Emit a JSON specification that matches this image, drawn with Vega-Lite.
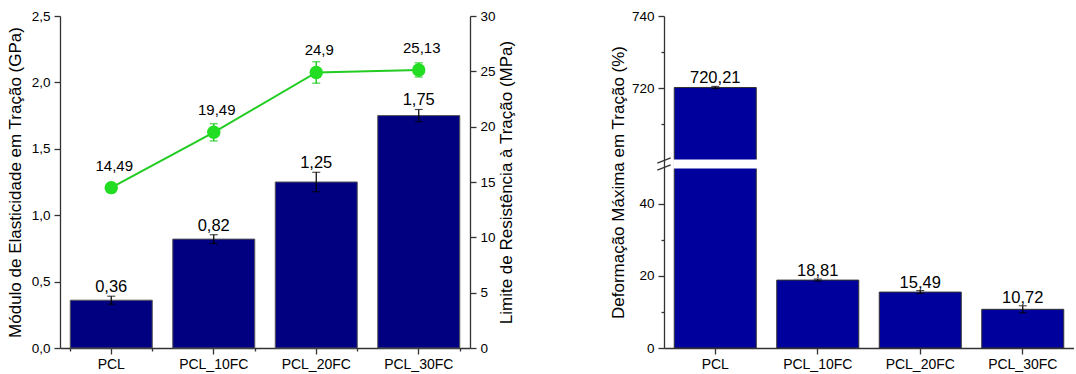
{
  "$schema": "https://vega.github.io/schema/vega-lite/v6.json",
  "padding": {"left": 6, "top": 9, "right": 0, "bottom": 3},
  "background": "white",
  "config": {
    "font": "Liberation Sans",
    "view": {"stroke": null},
    "axis": {
      "labelFont": "Liberation Sans", "titleFont": "Liberation Sans",
      "labelFontSize": 13.5, "titleFontSize": 17, "titleFontWeight": "normal",
      "labelColor": "#000", "titleColor": "#000",
      "domainColor": "#333", "tickColor": "#333", "domainWidth": 1.3, "tickWidth": 1.3,
      "grid": false, "labelOverlap": false, "labelFlush": false
    },
    "locale": {"number": {"decimal": ",", "thousands": ".", "grouping": [3], "currency": ["", ""]}}
  },
  "datasets": {
    "tensile": [
      {"amostra": "PCL", "modulo": 0.36, "modulo_lo": 0.33, "modulo_hi": 0.39, "resistencia": 14.49, "resistencia_lo": 14.2, "resistencia_hi": 14.8, "deformacao": 720.21, "deformacao_lo": 719.9, "deformacao_hi": 720.5},
      {"amostra": "PCL_10FC", "modulo": 0.82, "modulo_lo": 0.787, "modulo_hi": 0.853, "resistencia": 19.49, "resistencia_lo": 18.71, "resistencia_hi": 20.27, "deformacao": 18.81, "deformacao_lo": 18.5, "deformacao_hi": 19.1},
      {"amostra": "PCL_20FC", "modulo": 1.25, "modulo_lo": 1.177, "modulo_hi": 1.323, "resistencia": 24.9, "resistencia_lo": 23.93, "resistencia_hi": 25.87, "deformacao": 15.49, "deformacao_lo": 15.1, "deformacao_hi": 15.9},
      {"amostra": "PCL_30FC", "modulo": 1.75, "modulo_lo": 1.704, "modulo_hi": 1.796, "resistencia": 25.13, "resistencia_lo": 24.49, "resistencia_hi": 25.77, "deformacao": 10.72, "deformacao_lo": 9.75, "deformacao_hi": 11.7}
    ]
  },
  "spacing": 94,
  "hconcat": [
    {
      "width": 410,
      "height": 332,
      "data": {"name": "tensile"},
      "layer": [
        {
          "encoding": {
            "x": {"field": "amostra", "type": "nominal", "sort": null, "title": null,
                  "scale": {"paddingInner": 0.2, "paddingOuter": 0.1},
                  "axis": {"orient": "bottom", "labelAngle": 0, "tickSize": 6, "labelPadding": 3, "labelFontSize": 14, "title": null}}
          },
          "layer": [
            {
              "mark": {"type": "bar", "color": "#000080", "stroke": "#555", "strokeWidth": 1},
              "encoding": {
                "y": {"field": "modulo", "type": "quantitative", "title": "Módulo de Elasticidade em Tração (GPa)",
                      "scale": {"domain": [0, 2.5], "nice": false},
                      "axis": {"orient": "left", "values": [0, 0.25, 0.5, 0.75, 1, 1.25, 1.5, 1.75, 2, 2.25, 2.5],
                               "labelExpr": "(datum.value * 2) % 1 == 0 ? replace(format(datum.value, '.1f'), '.', ',') : ''",
                               "tickSize": {"condition": {"test": "(datum.value * 2) % 1 != 0", "value": 3}, "value": 6},
                               "labelPadding": 4, "titlePadding": 7}}
              }
            },
            {
              "mark": {"type": "errorbar", "color": "#000", "thickness": 1.2, "ticks": {"size": 8, "color": "#000"}},
              "encoding": {
                "y": {"field": "modulo_lo", "type": "quantitative", "title": "Módulo de Elasticidade em Tração (GPa)"},
                "y2": {"field": "modulo_hi"}
              }
            },
            {
              "mark": {"type": "text", "fontSize": 16.5, "baseline": "alphabetic", "dy": -4, "color": "#000"},
              "encoding": {
                "y": {"field": "modulo_hi", "type": "quantitative", "title": "Módulo de Elasticidade em Tração (GPa)"},
                "text": {"field": "modulo", "type": "quantitative", "format": ".2f"}
              }
            }
          ]
        },
        {
          "encoding": {
            "x": {"field": "amostra", "type": "nominal", "sort": null, "title": null,
                  "axis": {"orient": "bottom", "tickBand": "extent", "labels": false, "domain": false, "tickSize": 3, "title": null}}
          },
          "layer": [
            {
              "mark": {"type": "line", "color": "#22cc22", "strokeWidth": 2},
              "encoding": {
                "y": {"field": "resistencia", "type": "quantitative", "title": "Limite de Resistência à Tração (MPa)",
                      "scale": {"domain": [0, 30], "nice": false},
                      "axis": {"orient": "right", "values": [0, 2.5, 5, 7.5, 10, 12.5, 15, 17.5, 20, 22.5, 25, 27.5, 30],
                               "labelExpr": "datum.value % 5 == 0 ? format(datum.value, 'd') : ''",
                               "tickSize": {"condition": {"test": "datum.value % 5 != 0", "value": 3}, "value": 6},
                               "labelPadding": 4, "titlePadding": 3, "titleAngle": 270, "titleBaseline": "top"}}
              }
            },
            {
              "mark": {"type": "errorbar", "color": "#22cc22", "thickness": 1.5, "ticks": {"size": 8, "color": "#22cc22"}},
              "encoding": {
                "y": {"field": "resistencia_lo", "type": "quantitative", "title": "Limite de Resistência à Tração (MPa)"},
                "y2": {"field": "resistencia_hi"}
              }
            },
            {
              "mark": {"type": "point", "filled": true, "color": "#22dd22", "size": 180, "opacity": 1},
              "encoding": {
                "y": {"field": "resistencia", "type": "quantitative", "title": "Limite de Resistência à Tração (MPa)"}
              }
            },
            {
              "mark": {"type": "text", "fontSize": 15, "baseline": "alphabetic", "dy": -17, "dx": 3, "color": "#000"},
              "encoding": {
                "y": {"field": "resistencia", "type": "quantitative", "title": "Limite de Resistência à Tração (MPa)"},
                "text": {"field": "resistencia", "type": "quantitative", "format": ".2~f"}
              }
            }
          ]
        }
      ],
      "resolve": {"scale": {"y": "independent"}, "axis": {"x": "independent"}}
    },
    {
      "width": 410,
      "height": 332,
      "data": {"name": "tensile"},
      "layer": [
        {
          "encoding": {
            "x": {"field": "amostra", "type": "nominal", "sort": null, "title": null,
                  "scale": {"paddingInner": 0.2, "paddingOuter": 0.1},
                  "axis": {"orient": "bottom", "labelAngle": 0, "tickSize": 6, "labelPadding": 3, "labelFontSize": 14, "title": null}}
          },
          "layer": [
            {
              "mark": {"type": "bar", "color": "#00009c", "stroke": "#333", "strokeWidth": 1},
              "encoding": {
                "y": {"field": "deformacao", "type": "quantitative", "title": "Deformação Máxima em Tração (%)",
                      "scale": {"domain": [0, 50, 700, 740], "range": [332, 151.5, 144.5, 0], "nice": false, "zero": false},
                      "axis": {"orient": "left", "values": [0, 10, 20, 30, 40, 710, 720, 730, 740],
                               "labelExpr": "datum.value % 20 == 0 ? format(datum.value, 'd') : ''",
                               "tickSize": {"condition": {"test": "datum.value % 20 != 0", "value": 3}, "value": 6},
                               "labelPadding": 4, "titlePadding": 4}}
              }
            },
            {
              "mark": {"type": "errorbar", "color": "#000", "thickness": 1.2, "ticks": {"size": 8, "color": "#000"}},
              "encoding": {
                "y": {"field": "deformacao_lo", "type": "quantitative", "title": "Deformação Máxima em Tração (%)"},
                "y2": {"field": "deformacao_hi"}
              }
            },
            {
              "mark": {"type": "text", "fontSize": 16.5, "baseline": "alphabetic", "dy": -3, "color": "#000"},
              "encoding": {
                "y": {"field": "deformacao_hi", "type": "quantitative", "title": "Deformação Máxima em Tração (%)"},
                "text": {"field": "deformacao", "type": "quantitative", "format": ".2f"}
              }
            },
            {
              "transform": [{"filter": "datum.amostra == 'PCL'"}],
              "mark": {"type": "rect", "color": "white", "stroke": "white", "strokeWidth": 2},
              "encoding": {
                "y": {"datum": 50, "type": "quantitative", "title": "Deformação Máxima em Tração (%)"},
                "y2": {"datum": 700}
              }
            }
          ]
        },
        {
          "transform": [{"filter": "datum.amostra == 'PCL'"}],
          "mark": {"type": "point", "shape": "M -1 0.4 L 1 -0.4", "size": 180, "filled": false, "stroke": "#333", "strokeWidth": 1.3, "opacity": 1},
          "encoding": {
            "x": {"value": 0},
            "y": {"datum": 700, "type": "quantitative", "title": "Deformação Máxima em Tração (%)"}
          }
        },
        {
          "transform": [{"filter": "datum.amostra == 'PCL'"}],
          "mark": {"type": "point", "shape": "M -1 0.4 L 1 -0.4", "size": 180, "filled": false, "stroke": "#333", "strokeWidth": 1.3, "opacity": 1},
          "encoding": {
            "x": {"value": 0},
            "y": {"datum": 50, "type": "quantitative", "title": "Deformação Máxima em Tração (%)"}
          }
        }
      ]
    }
  ]
}
